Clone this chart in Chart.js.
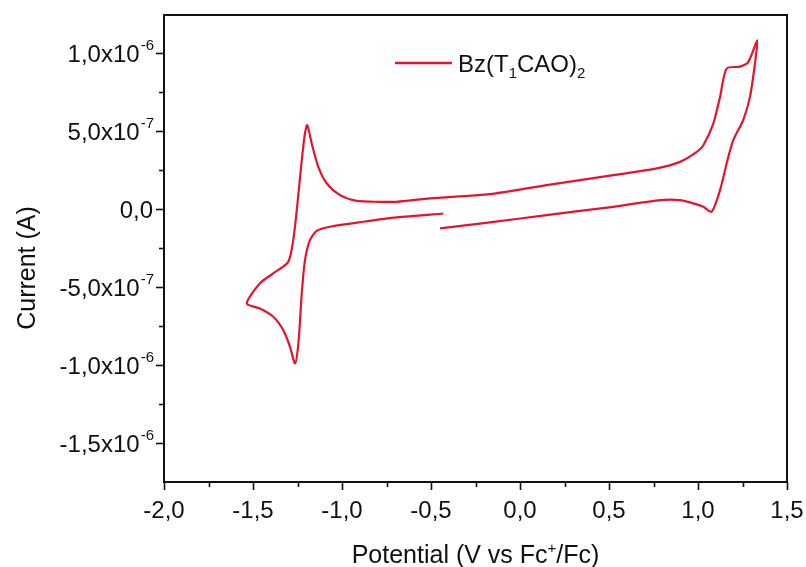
<!DOCTYPE html>
<html>
<head>
<meta charset="utf-8">
<script src="https://cdn.jsdelivr.net/npm/chart.js@4.4.1/dist/chart.umd.min.js"></script>
<style>
  html, body { margin: 0; padding: 0; background: #fff; }
  #wrap { width: 806px; height: 567px; position: relative; }
</style>
</head>
<body>
<div id="wrap"><canvas id="cv"></canvas></div>
<script>
// cyclic voltammogram, scan starts near -0.43 V going negative
var potential = [
  -0.431, -0.693, -0.880, -1.067, -1.142, -1.180, -1.208, -1.226, -1.245, -1.264,
  -1.292, -1.330, -1.386, -1.461, -1.535,
  -1.461, -1.386, -1.302, -1.274, -1.254, -1.226, -1.208, -1.195,
  -1.170, -1.133, -1.086, -1.011, -0.917, -0.787, -0.693, -0.506, -0.169,
  0.150, 0.524, 0.768, 0.899, 0.993, 1.030, 1.086, 1.124, 1.161, 1.236, 1.283, 1.333,
  1.320, 1.292, 1.254, 1.198, 1.161, 1.124, 1.077,
  1.030, 0.974, 0.899, 0.787, 0.524, 0.150, -0.169, -0.449
];
var current = [
  -0.028e-6, -0.053e-6, -0.081e-6, -0.113e-6, -0.139e-6, -0.199e-6, -0.327e-6, -0.540e-6, -0.861e-6, -0.989e-6,
  -0.883e-6, -0.776e-6, -0.690e-6, -0.637e-6, -0.605e-6,
  -0.476e-6, -0.412e-6, -0.338e-6, -0.199e-6, -0.006e-6, 0.314e-6, 0.487e-6, 0.538e-6,
  0.421e-6, 0.271e-6, 0.165e-6, 0.090e-6, 0.053e-6, 0.047e-6, 0.047e-6, 0.069e-6, 0.096e-6,
  0.154e-6, 0.218e-6, 0.261e-6, 0.303e-6, 0.367e-6, 0.410e-6, 0.549e-6, 0.720e-6, 0.902e-6, 0.914e-6, 0.944e-6, 1.083e-6,
  0.934e-6, 0.720e-6, 0.571e-6, 0.442e-6, 0.293e-6, 0.122e-6, -0.017e-6,
  0.015e-6, 0.037e-6, 0.058e-6, 0.058e-6, 0.015e-6, -0.038e-6, -0.085e-6, -0.124e-6
];

var xTicks = [-2.0, -1.5, -1.0, -0.5, 0.0, 0.5, 1.0, 1.5];
var xTickLabels = ['-2,0', '-1,5', '-1,0', '-0,5', '0,0', '0,5', '1,0', '1,5'];
var yTicks = [1.0e-6, 5.0e-7, 0, -5.0e-7, -1.0e-6, -1.5e-6];
var yTickMantissa = ['1,0x10', '5,0x10', '0,0', '-5,0x10', '-1,0x10', '-1,5x10'];
var yTickExponent = ['-6', '-7', '', '-7', '-6', '-6'];

var FONT = "'Liberation Sans', Arial, sans-serif";
var RED = '#e2152c';

var points = potential.map(function (v, i) { return { x: v, y: current[i] }; });

var decor = {
  id: 'decor',
  afterDraw: function (chart) {
    var ctx = chart.ctx, a = chart.chartArea;
    var xs = chart.scales.x, ys = chart.scales.y;
    ctx.save();
    ctx.strokeStyle = '#111';
    ctx.lineWidth = 2;
    ctx.strokeRect(a.left, a.top, a.right - a.left, a.bottom - a.top);

    // x ticks (major + minor)
    ctx.lineWidth = 1.6;
    for (var i = 0; i < xTicks.length; i++) {
      var px = Math.round(xs.getPixelForValue(xTicks[i])) + 0.5;
      ctx.beginPath(); ctx.moveTo(px, a.bottom); ctx.lineTo(px, a.bottom + 8); ctx.stroke();
      if (i < xTicks.length - 1) {
        var pm = Math.round(xs.getPixelForValue((xTicks[i] + xTicks[i + 1]) / 2)) + 0.5;
        ctx.beginPath(); ctx.moveTo(pm, a.bottom); ctx.lineTo(pm, a.bottom + 5); ctx.stroke();
      }
    }
    // y ticks
    var yAll = [1.0e-6, 7.5e-7, 5.0e-7, 2.5e-7, 0, -2.5e-7, -5.0e-7, -7.5e-7, -1.0e-6, -1.25e-6, -1.5e-6];
    yAll.forEach(function (v, k) {
      var py = Math.round(ys.getPixelForValue(v)) + 0.5;
      var len = (k % 2 === 0) ? 8 : 5;
      ctx.beginPath(); ctx.moveTo(a.left, py); ctx.lineTo(a.left - len, py); ctx.stroke();
    });

    ctx.fillStyle = '#111';
    // x tick labels
    ctx.font = '24px ' + FONT;
    ctx.textAlign = 'center';
    ctx.textBaseline = 'alphabetic';
    xTicks.forEach(function (v, i) {
      ctx.fillText(xTickLabels[i], xs.getPixelForValue(v), a.bottom + 36);
    });

    // y tick labels with superscript exponent
    yTicks.forEach(function (v, i) {
      var py = ys.getPixelForValue(v);
      var right = a.left - 11;
      ctx.textAlign = 'left';
      ctx.font = '15px ' + FONT;
      var ew = ctx.measureText(yTickExponent[i]).width;
      ctx.font = '24px ' + FONT;
      var mw = ctx.measureText(yTickMantissa[i]).width;
      var x0 = right - ew - mw;
      ctx.fillText(yTickMantissa[i], x0, py + 9);
      if (yTickExponent[i]) {
        ctx.font = '15px ' + FONT;
        ctx.fillText(yTickExponent[i], x0 + mw + 1, py - 3);
      }
    });

    // axis titles
    ctx.font = '25px ' + FONT;
    ctx.textAlign = 'left';
    var t1 = 'Potential (V vs Fc', t2 = '/Fc)';
    var w1 = ctx.measureText(t1).width, w2 = ctx.measureText(t2).width;
    ctx.font = '15px ' + FONT;
    var wp = ctx.measureText('+').width;
    var cx = (a.left + a.right) / 2;
    var sx = cx - (w1 + wp + w2) / 2;
    var by = a.bottom + 81;
    ctx.font = '25px ' + FONT;
    ctx.fillText(t1, sx, by);
    ctx.font = '15px ' + FONT;
    ctx.fillText('+', sx + w1, by - 10);
    ctx.font = '25px ' + FONT;
    ctx.fillText(t2, sx + w1 + wp, by);

    ctx.save();
    ctx.translate(35, 268);
    ctx.rotate(-Math.PI / 2);
    ctx.textAlign = 'center';
    ctx.fillText('Current (A)', 0, 0);
    ctx.restore();

    // legend
    var ly = a.top + 48;
    ctx.strokeStyle = RED;
    ctx.lineWidth = 2.5;
    ctx.beginPath(); ctx.moveTo(a.left + 231, ly); ctx.lineTo(a.left + 288, ly); ctx.stroke();
    var lx = a.left + 294, lb = ly + 9;
    var parts = [['Bz(T', 24, 0], ['1', 15, 6], ['CAO)', 24, 0], ['2', 15, 6]];
    parts.forEach(function (p) {
      ctx.font = p[1] + 'px ' + FONT;
      ctx.fillText(p[0], lx, lb + p[2]);
      lx += ctx.measureText(p[0]).width;
    });
    ctx.restore();
  }
};

new Chart(document.getElementById('cv'), {
  type: 'line',
  data: {
    datasets: [{
      label: 'Bz(T1CAO)2',
      data: points,
      borderColor: RED,
      borderWidth: 2.2,
      pointRadius: 0,
      tension: 0.25,
      fill: false
    }]
  },
  options: {
    responsive: true,
    maintainAspectRatio: false,
    animation: false,
    layout: { padding: { left: 164, top: 15, right: 19, bottom: 85 } },
    plugins: { legend: { display: false }, tooltip: { enabled: false } },
    scales: {
      x: {
        type: 'linear', min: -2, max: 1.5,
        grid: { display: false, drawTicks: false },
        border: { display: false },
        ticks: { display: false },
        afterFit: function (s) { s.height = 0; }
      },
      y: {
        type: 'linear', min: -1.75e-6, max: 1.245e-6,
        grid: { display: false, drawTicks: false },
        border: { display: false },
        ticks: { display: false },
        afterFit: function (s) { s.width = 0; }
      }
    }
  },
  plugins: [decor]
});
</script>
</body>
</html>
